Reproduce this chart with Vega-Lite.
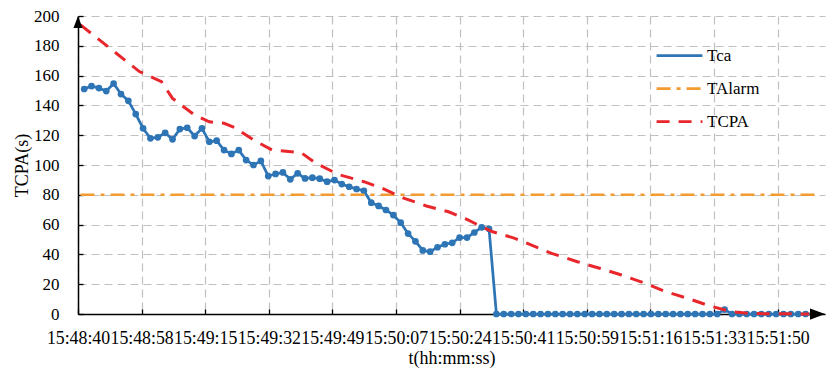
{
  "$schema": "https://vega.github.io/schema/vega-lite/v6.json",
  "width": 747,
  "height": 298,
  "autosize": {"type": "none"},
  "padding": {"left": 78, "top": 16, "right": 5, "bottom": 56},
  "background": "white",
  "datasets": {
    "series": [
      {"s":"Tca","t":"2024-01-01T15:48:42","v":151},
      {"s":"Tca","t":"2024-01-01T15:48:44","v":153},
      {"s":"Tca","t":"2024-01-01T15:48:46","v":151.6},
      {"s":"Tca","t":"2024-01-01T15:48:48","v":149.6},
      {"s":"Tca","t":"2024-01-01T15:48:50","v":154.7},
      {"s":"Tca","t":"2024-01-01T15:48:52","v":147.6},
      {"s":"Tca","t":"2024-01-01T15:48:54","v":143.1},
      {"s":"Tca","t":"2024-01-01T15:48:56","v":134.2},
      {"s":"Tca","t":"2024-01-01T15:48:58","v":124.6},
      {"s":"Tca","t":"2024-01-01T15:49:00","v":117.9},
      {"s":"Tca","t":"2024-01-01T15:49:02","v":118.6},
      {"s":"Tca","t":"2024-01-01T15:49:04","v":121.6},
      {"s":"Tca","t":"2024-01-01T15:49:06","v":117.2},
      {"s":"Tca","t":"2024-01-01T15:49:08","v":124.1},
      {"s":"Tca","t":"2024-01-01T15:49:10","v":125},
      {"s":"Tca","t":"2024-01-01T15:49:12","v":119.4},
      {"s":"Tca","t":"2024-01-01T15:49:14","v":124.6},
      {"s":"Tca","t":"2024-01-01T15:49:16","v":115.6},
      {"s":"Tca","t":"2024-01-01T15:49:18","v":116.3},
      {"s":"Tca","t":"2024-01-01T15:49:20","v":110},
      {"s":"Tca","t":"2024-01-01T15:49:22","v":107.4},
      {"s":"Tca","t":"2024-01-01T15:49:24","v":110},
      {"s":"Tca","t":"2024-01-01T15:49:26","v":103.3},
      {"s":"Tca","t":"2024-01-01T15:49:28","v":100},
      {"s":"Tca","t":"2024-01-01T15:49:30","v":102.7},
      {"s":"Tca","t":"2024-01-01T15:49:32","v":92.6},
      {"s":"Tca","t":"2024-01-01T15:49:34","v":94},
      {"s":"Tca","t":"2024-01-01T15:49:36","v":95},
      {"s":"Tca","t":"2024-01-01T15:49:38","v":90.4},
      {"s":"Tca","t":"2024-01-01T15:49:40","v":94.4},
      {"s":"Tca","t":"2024-01-01T15:49:42","v":91},
      {"s":"Tca","t":"2024-01-01T15:49:44","v":91.5},
      {"s":"Tca","t":"2024-01-01T15:49:46","v":90.8},
      {"s":"Tca","t":"2024-01-01T15:49:48","v":88.8},
      {"s":"Tca","t":"2024-01-01T15:49:50","v":89.9},
      {"s":"Tca","t":"2024-01-01T15:49:52","v":87.2},
      {"s":"Tca","t":"2024-01-01T15:49:54","v":85.4},
      {"s":"Tca","t":"2024-01-01T15:49:56","v":83.9},
      {"s":"Tca","t":"2024-01-01T15:49:58","v":82.7},
      {"s":"Tca","t":"2024-01-01T15:50:00","v":74.7},
      {"s":"Tca","t":"2024-01-01T15:50:02","v":72.5},
      {"s":"Tca","t":"2024-01-01T15:50:04","v":69.8},
      {"s":"Tca","t":"2024-01-01T15:50:06","v":66.4},
      {"s":"Tca","t":"2024-01-01T15:50:08","v":61.3},
      {"s":"Tca","t":"2024-01-01T15:50:10","v":54},
      {"s":"Tca","t":"2024-01-01T15:50:12","v":48.8},
      {"s":"Tca","t":"2024-01-01T15:50:14","v":42.7},
      {"s":"Tca","t":"2024-01-01T15:50:16","v":41.8},
      {"s":"Tca","t":"2024-01-01T15:50:18","v":44.8},
      {"s":"Tca","t":"2024-01-01T15:50:20","v":46.8},
      {"s":"Tca","t":"2024-01-01T15:50:22","v":47.8},
      {"s":"Tca","t":"2024-01-01T15:50:24","v":51.3},
      {"s":"Tca","t":"2024-01-01T15:50:26","v":51.3},
      {"s":"Tca","t":"2024-01-01T15:50:28","v":54.7},
      {"s":"Tca","t":"2024-01-01T15:50:30","v":58.2},
      {"s":"Tca","t":"2024-01-01T15:50:32","v":57.2},
      {"s":"Tca","t":"2024-01-01T15:50:34","v":0},
      {"s":"Tca","t":"2024-01-01T15:50:36","v":0},
      {"s":"Tca","t":"2024-01-01T15:50:38","v":0},
      {"s":"Tca","t":"2024-01-01T15:50:40","v":0},
      {"s":"Tca","t":"2024-01-01T15:50:42","v":0},
      {"s":"Tca","t":"2024-01-01T15:50:44","v":0},
      {"s":"Tca","t":"2024-01-01T15:50:46","v":0},
      {"s":"Tca","t":"2024-01-01T15:50:48","v":0},
      {"s":"Tca","t":"2024-01-01T15:50:50","v":0},
      {"s":"Tca","t":"2024-01-01T15:50:52","v":0},
      {"s":"Tca","t":"2024-01-01T15:50:54","v":0},
      {"s":"Tca","t":"2024-01-01T15:50:56","v":0},
      {"s":"Tca","t":"2024-01-01T15:50:58","v":0},
      {"s":"Tca","t":"2024-01-01T15:51:00","v":0},
      {"s":"Tca","t":"2024-01-01T15:51:02","v":0},
      {"s":"Tca","t":"2024-01-01T15:51:04","v":0},
      {"s":"Tca","t":"2024-01-01T15:51:06","v":0},
      {"s":"Tca","t":"2024-01-01T15:51:08","v":0},
      {"s":"Tca","t":"2024-01-01T15:51:10","v":0},
      {"s":"Tca","t":"2024-01-01T15:51:12","v":0},
      {"s":"Tca","t":"2024-01-01T15:51:14","v":0},
      {"s":"Tca","t":"2024-01-01T15:51:16","v":0},
      {"s":"Tca","t":"2024-01-01T15:51:18","v":0},
      {"s":"Tca","t":"2024-01-01T15:51:20","v":0},
      {"s":"Tca","t":"2024-01-01T15:51:22","v":0},
      {"s":"Tca","t":"2024-01-01T15:51:24","v":0},
      {"s":"Tca","t":"2024-01-01T15:51:26","v":0},
      {"s":"Tca","t":"2024-01-01T15:51:28","v":0},
      {"s":"Tca","t":"2024-01-01T15:51:30","v":0},
      {"s":"Tca","t":"2024-01-01T15:51:32","v":0},
      {"s":"Tca","t":"2024-01-01T15:51:34","v":0},
      {"s":"Tca","t":"2024-01-01T15:51:36","v":3},
      {"s":"Tca","t":"2024-01-01T15:51:38","v":0},
      {"s":"Tca","t":"2024-01-01T15:51:40","v":0},
      {"s":"Tca","t":"2024-01-01T15:51:42","v":0},
      {"s":"Tca","t":"2024-01-01T15:51:44","v":0},
      {"s":"Tca","t":"2024-01-01T15:51:46","v":0},
      {"s":"Tca","t":"2024-01-01T15:51:48","v":0},
      {"s":"Tca","t":"2024-01-01T15:51:50","v":0},
      {"s":"Tca","t":"2024-01-01T15:51:52","v":0},
      {"s":"Tca","t":"2024-01-01T15:51:54","v":0},
      {"s":"Tca","t":"2024-01-01T15:51:56","v":0},
      {"s":"Tca","t":"2024-01-01T15:51:58","v":0},
      {"s":"Tca","t":"2024-01-01T15:52:00","v":0},
      {"s":"TAlarm","t":"2024-01-01T15:48:41","v":80},
      {"s":"TAlarm","t":"2024-01-01T15:52:02","v":80},
      {"s":"TCPA","t":"2024-01-01T15:48:41","v":194},
      {"s":"TCPA","t":"2024-01-01T15:48:57","v":162.7},
      {"s":"TCPA","t":"2024-01-01T15:48:59","v":160.5},
      {"s":"TCPA","t":"2024-01-01T15:49:03","v":155.9},
      {"s":"TCPA","t":"2024-01-01T15:49:06","v":144.7},
      {"s":"TCPA","t":"2024-01-01T15:49:12","v":133.5},
      {"s":"TCPA","t":"2024-01-01T15:49:16","v":129},
      {"s":"TCPA","t":"2024-01-01T15:49:20","v":128},
      {"s":"TCPA","t":"2024-01-01T15:49:23","v":125},
      {"s":"TCPA","t":"2024-01-01T15:49:28","v":116.8},
      {"s":"TCPA","t":"2024-01-01T15:49:33","v":110.1},
      {"s":"TCPA","t":"2024-01-01T15:49:41","v":108.2},
      {"s":"TCPA","t":"2024-01-01T15:49:45","v":101.1},
      {"s":"TCPA","t":"2024-01-01T15:49:51","v":93.7},
      {"s":"TCPA","t":"2024-01-01T15:49:58","v":88.8},
      {"s":"TCPA","t":"2024-01-01T15:50:03","v":84.3},
      {"s":"TCPA","t":"2024-01-01T15:50:09","v":77.6},
      {"s":"TCPA","t":"2024-01-01T15:50:15","v":72.5},
      {"s":"TCPA","t":"2024-01-01T15:50:21","v":68.6},
      {"s":"TCPA","t":"2024-01-01T15:50:26","v":63.5},
      {"s":"TCPA","t":"2024-01-01T15:50:30","v":58.6},
      {"s":"TCPA","t":"2024-01-01T15:50:33","v":55.2},
      {"s":"TCPA","t":"2024-01-01T15:50:39","v":50.8},
      {"s":"TCPA","t":"2024-01-01T15:50:49","v":40.7},
      {"s":"TCPA","t":"2024-01-01T15:50:56","v":35.1},
      {"s":"TCPA","t":"2024-01-01T15:51:02","v":30.7},
      {"s":"TCPA","t":"2024-01-01T15:51:08","v":26.2},
      {"s":"TCPA","t":"2024-01-01T15:51:14","v":21},
      {"s":"TCPA","t":"2024-01-01T15:51:20","v":15},
      {"s":"TCPA","t":"2024-01-01T15:51:26","v":10.5},
      {"s":"TCPA","t":"2024-01-01T15:51:32","v":5.4},
      {"s":"TCPA","t":"2024-01-01T15:51:38","v":1.5},
      {"s":"TCPA","t":"2024-01-01T15:51:43","v":0.3},
      {"s":"TCPA","t":"2024-01-01T15:51:59","v":0}
    ]
  },
  "encoding": {
    "x": {
      "field": "t",
      "type": "temporal",
      "scale": {"domain": [
        {"year": 2024, "month": 1, "date": 1, "hours": 15, "minutes": 48, "seconds": 40, "milliseconds": 320},
        {"year": 2024, "month": 1, "date": 1, "hours": 15, "minutes": 52, "seconds": 3, "milliseconds": 280}
      ]},
      "axis": {
        "title": "t(hh:mm:ss)",
        "values": [
          {"year": 2024, "month": 1, "date": 1, "hours": 15, "minutes": 48, "seconds": 40, "milliseconds": 320},
          {"year": 2024, "month": 1, "date": 1, "hours": 15, "minutes": 48, "seconds": 57, "milliseconds": 600},
          {"year": 2024, "month": 1, "date": 1, "hours": 15, "minutes": 49, "seconds": 14, "milliseconds": 880},
          {"year": 2024, "month": 1, "date": 1, "hours": 15, "minutes": 49, "seconds": 32, "milliseconds": 160},
          {"year": 2024, "month": 1, "date": 1, "hours": 15, "minutes": 49, "seconds": 49, "milliseconds": 440},
          {"year": 2024, "month": 1, "date": 1, "hours": 15, "minutes": 50, "seconds": 6, "milliseconds": 720},
          {"year": 2024, "month": 1, "date": 1, "hours": 15, "minutes": 50, "seconds": 24, "milliseconds": 0},
          {"year": 2024, "month": 1, "date": 1, "hours": 15, "minutes": 50, "seconds": 41, "milliseconds": 280},
          {"year": 2024, "month": 1, "date": 1, "hours": 15, "minutes": 50, "seconds": 58, "milliseconds": 560},
          {"year": 2024, "month": 1, "date": 1, "hours": 15, "minutes": 51, "seconds": 15, "milliseconds": 840},
          {"year": 2024, "month": 1, "date": 1, "hours": 15, "minutes": 51, "seconds": 33, "milliseconds": 120},
          {"year": 2024, "month": 1, "date": 1, "hours": 15, "minutes": 51, "seconds": 50, "milliseconds": 400}
        ],
        "labelExpr": "timeFormat(time(datum.value) + 500, '%H:%M:%S')",
        "labelOverlap": false,
        "labelFlush": false,
        "labelBound": false,
        "labelFontSize": 17.8,
        "labelPadding": 20,
        "titlePadding": 3
      }
    },
    "y": {
      "field": "v",
      "type": "quantitative",
      "scale": {"domain": [0, 200], "nice": false},
      "axis": {"title": "TCPA(s)", "values": [0,20,40,60,80,100,120,140,160,180,200], "labelPadding": 24, "titlePadding": 2}
    }
  },
  "layer": [
    {
      "data": {"name": "series"},
      "transform": [{"filter": "datum.s === 'Tca'"}],
      "mark": {"type": "line", "strokeWidth": 2.75},
      "encoding": {
        "color": {"field": "s", "type": "nominal", "scale": {"domain": ["Tca", "TAlarm", "TCPA"], "range": ["#2E75B6", "#F29B30", "#E8262B"]}},
        "strokeDash": {"field": "s", "type": "nominal", "scale": {"domain": ["Tca", "TAlarm", "TCPA"], "range": [[1, 0], [14, 6, 4, 6], [13, 9]]}}
      }
    },
    {
      "data": {"name": "series"},
      "transform": [{"filter": "datum.s === 'Tca'"}],
      "mark": {"type": "point", "shape": "circle", "filled": true, "size": 45, "color": "#2E75B6", "opacity": 1}
    },
    {
      "data": {"name": "series"},
      "transform": [{"filter": "datum.s === 'TAlarm'"}],
      "mark": {"type": "line", "strokeWidth": 2.5},
      "encoding": {
        "color": {"field": "s", "type": "nominal"},
        "strokeDash": {"field": "s", "type": "nominal"}
      }
    },
    {
      "data": {"name": "series"},
      "transform": [{"filter": "datum.s === 'TCPA'"}],
      "mark": {"type": "line", "strokeWidth": 3},
      "encoding": {
        "color": {"field": "s", "type": "nominal"},
        "strokeDash": {"field": "s", "type": "nominal"}
      }
    },
    {
      "data": {"values": [{"t": "2024-01-01T15:48:40.320", "v": 200}]},
      "mark": {"type": "point", "shape": "M0,0L0.75,2L-0.75,2Z", "size": 144, "filled": true, "color": "#000", "opacity": 1}
    },
    {
      "data": {"values": [{"t": "2024-01-01T15:52:03.280", "v": 0}]},
      "mark": {"type": "point", "shape": "M0,0L-2,-0.75L-2,0.75Z", "size": 225, "filled": true, "color": "#000", "opacity": 1}
    }
  ],
  "config": {
    "view": {"stroke": null},
    "font": "Liberation Serif",
    "axis": {
      "grid": true,
      "gridColor": "#C0C0C0",
      "gridDash": [8, 5],
      "gridWidth": 1.2,
      "domainColor": "#000",
      "domainWidth": 1.5,
      "tickColor": "#000",
      "tickSize": -5,
      "tickWidth": 1.3,
      "labelFont": "Liberation Serif",
      "labelFontSize": 17,
      "labelColor": "#000",
      "titleFont": "Liberation Serif",
      "titleFontSize": 18,
      "titleFontWeight": "normal",
      "titleColor": "#000"
    },
    "legend": {
      "orient": "none",
      "legendX": 577,
      "legendY": 15,
      "title": null,
      "symbolType": "stroke",
      "symbolSize": 2100,
      "symbolStrokeWidth": 2.75,
      "labelFont": "Liberation Serif",
      "labelFontSize": 17,
      "labelColor": "#000",
      "labelOffset": 3,
      "rowPadding": -13,
      "padding": 0
    }
  }
}
